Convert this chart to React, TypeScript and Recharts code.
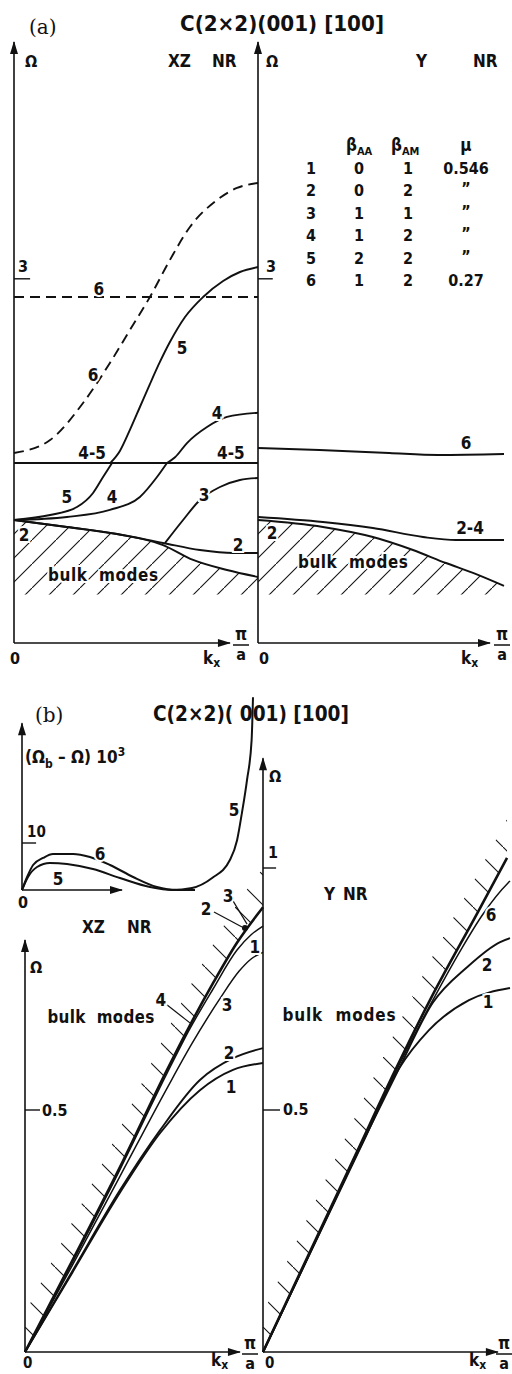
import React from "react";
import {
  ComposedChart,
  Line,
  Area,
  Scatter,
  XAxis,
  YAxis,
  ReferenceLine,
  ReferenceDot,
} from "recharts";

type Pair = [number, number];
type Tag = [number, number, string];

// ---- (a) XZ NR : k from 0 to pi/a, Omega in reduced units ----
const xzFlat6: Pair[] = [[0, 2.85], [1, 2.85]];
const xzRise6: Pair[] = [
  [0, 1.565], [0.148, 1.672], [0.283, 1.977], [0.393, 2.306], [0.475, 2.578],
  [0.557, 2.85], [0.639, 3.155], [0.721, 3.427], [0.832, 3.649], [0.914, 3.748], [1, 3.789],
];
const xzFlat45: Pair[] = [[0, 1.483], [1, 1.483]];
const xzLow5: Pair[] = [
  [0, 1.013], [0.148, 1.054], [0.258, 1.12], [0.324, 1.236], [0.365, 1.367], [0.402, 1.483],
];
const xzHigh5: Pair[] = [
  [0.395, 1.483], [0.434, 1.582], [0.475, 1.755], [0.516, 1.944], [0.557, 2.133],
  [0.598, 2.315], [0.639, 2.479], [0.701, 2.685], [0.775, 2.85], [0.857, 2.982],
  [0.926, 3.056], [1, 3.097],
];
const xzLow4: Pair[] = [
  [0, 1.013], [0.217, 1.038], [0.393, 1.096], [0.516, 1.203], [0.586, 1.367], [0.627, 1.483],
];
const xzHigh4: Pair[] = [
  [0.627, 1.483], [0.66, 1.53], [0.709, 1.647], [0.791, 1.779], [0.873, 1.862], [1, 1.897],
];
const xzMode3: Pair[] = [
  [0.619, 0.824], [0.693, 1.013], [0.762, 1.178], [0.844, 1.285], [0.926, 1.343], [1, 1.359],
];
const xzMode2: Pair[] = [
  [0, 1.013], [0.217, 0.956], [0.422, 0.898], [0.611, 0.824], [0.762, 0.766], [0.898, 0.741], [1, 0.741],
];
const xzBulkA: Pair[] = [
  [0, 1.013], [0.217, 0.956], [0.422, 0.898], [0.611, 0.807], [0.734, 0.684], [0.873, 0.601], [1, 0.544],
];

// ---- (a) Y NR ----
const yMode6: Pair[] = [[0, 1.606], [0.25, 1.59], [0.533, 1.565], [0.732, 1.549], [1, 1.557]];
const yMode24: Pair[] = [
  [0, 1.038], [0.264, 0.997], [0.467, 0.947], [0.671, 0.873], [0.805, 0.848], [1, 0.848],
];
const yBulkA: Pair[] = [
  [0, 1.013], [0.264, 0.956], [0.467, 0.873], [0.63, 0.766], [0.764, 0.659], [0.874, 0.577], [1, 0.47],
];

// ---- (b) inset : (Omega_b - Omega) * 10^3 ----
const gap6: Pair[] = [
  [0, 0], [0.022, 2.77], [0.048, 5.32], [0.091, 6.81], [0.134, 7.66], [0.221, 7.66],
  [0.294, 7.02], [0.381, 5.32], [0.481, 2.77], [0.584, 0.64], [0.671, 0], [0.749, 0],
];
const gap5: Pair[] = [
  [0, 0], [0.026, 2.77], [0.065, 4.89], [0.121, 5.74], [0.195, 5.53], [0.307, 4.47],
  [0.424, 2.55], [0.554, 0.64], [0.649, 0], [0.736, 0.43], [0.823, 2.55], [0.9, 6.38],
  [0.931, 10.6], [0.952, 16.4], [0.974, 23.4], [0.994, 31.9], [1, 41],
];

// ---- (b) XZ NR, low frequencies ----
const xzBulkB: Pair[] = [
  [0, 0], [0.2, 0.19], [0.4, 0.383], [0.597, 0.583], [0.693, 0.675], [0.79, 0.762], [0.89, 0.845], [1, 0.919],
];
const xzB4: Pair[] = [
  [0, 0], [0.2, 0.186], [0.4, 0.378], [0.597, 0.576], [0.693, 0.668], [0.79, 0.75], [0.89, 0.83], [0.95, 0.862], [1, 0.88],
];
const xzB3: Pair[] = [
  [0, 0], [0.2, 0.18], [0.4, 0.364], [0.6, 0.548], [0.7, 0.636], [0.819, 0.73], [0.9, 0.787], [0.95, 0.812], [1, 0.826],
];
const xzB2: Pair[] = [
  [0, 0], [0.2, 0.168], [0.4, 0.335], [0.567, 0.458], [0.735, 0.562], [0.874, 0.607], [1, 0.628],
];
const xzB1: Pair[] = [
  [0, 0], [0.2, 0.165], [0.4, 0.33], [0.567, 0.452], [0.735, 0.541], [0.874, 0.583], [1, 0.597],
];

// ---- (b) Y NR ----
const yBulkB: Pair[] = [
  [0, 0], [0.2, 0.218], [0.377, 0.41], [0.538, 0.585], [0.676, 0.727], [0.87, 0.909], [0.988, 1.021],
];
const yB6: Pair[] = [
  [0, 0], [0.2, 0.216], [0.377, 0.407], [0.538, 0.58], [0.676, 0.716], [0.8, 0.83], [0.891, 0.905], [0.992, 0.969], [1, 0.973],
];
const yB2: Pair[] = [
  [0, 0], [0.2, 0.215], [0.4, 0.43], [0.55, 0.585], [0.688, 0.722], [0.826, 0.795], [0.96, 0.847], [1, 0.855],
];
const yB1: Pair[] = [
  [0, 0], [0.2, 0.214], [0.4, 0.428], [0.55, 0.585], [0.672, 0.665], [0.834, 0.727], [1, 0.752],
];

// curve labels, [k, value, text]
const tagsAXz: Tag[] = [
  [0.348, 2.916, "6"], [0.324, 2.208, "6"], [0.689, 2.43, "5"], [0.832, 1.895, "4"],
  [0.32, 1.565, "4-5"], [0.889, 1.565, "4-5"], [0.217, 1.203, "5"], [0.402, 1.203, "4"],
  [0.779, 1.219, "3"], [0.918, 0.807, "2"], [0.041, 0.89, "2"],
];
const tagsAY: Tag[] = [[0.846, 1.647, "6"], [0.862, 0.947, "2-4"], [0.057, 0.906, "2"]];
const tagsInset: Tag[] = [[0.338, 7.66, "6"], [0.156, 2.34, "5"], [0.918, 17, "5"]];
const tagsBXz: Tag[] = [
  [0.571, 0.727, "4"], [0.849, 0.717, "3"], [0.857, 0.618, "2"], [0.866, 0.548, "1"],
  [0.761, 0.915, "2"], [0.853, 0.942, "3"], [0.966, 0.837, "1"],
];
const tagsBY: Tag[] = [[0.923, 0.903, "6"], [0.907, 0.8, "2"], [0.911, 0.723, "1"]];
const bulkTagAXz: Tag[] = [[0.365, 0.56, "bulk  modes"]];
const bulkTagAY: Tag[] = [[0.386, 0.667, "bulk  modes"]];
const bulkTagBXz: Tag[] = [[0.319, 0.692, "bulk  modes"]];
const bulkTagBY: Tag[] = [[0.308, 0.696, "bulk  modes"]];

// parameter table of panel (a)
const tableHead = ["\u03B2AA", "\u03B2AM", "\u03BC"];
const tableRows = [
  ["1", "0", "1", "0.546"],
  ["2", "0", "2", "\u201D"],
  ["3", "1", "1", "\u201D"],
  ["4", "1", "2", "\u201D"],
  ["5", "2", "2", "\u201D"],
  ["6", "1", "2", "0.27"],
];

const HATCH_FLOOR = 0.4;
const HATCH_DEPTH = 0.08;

const INK = "#111";
const FONT = '"DejaVu Sans Condensed", "DejaVu Sans", sans-serif';
const WEIGHT = 600;
const M = 30;

const toPoints = (rows: Pair[]) => rows.map(([k, w]) => ({ k, w }));

function curve(key: string, rows: Pair[], width = 1.9, dash?: string) {
  return (
    <Line
      key={key}
      data={toPoints(rows)}
      dataKey="w"
      type="monotone"
      stroke={INK}
      strokeWidth={width}
      strokeDasharray={dash}
      dot={false}
      activeDot={false}
      legendType="none"
      isAnimationActive={false}
    />
  );
}

function hatchBand(key: string, rows: Pair[], fill: string, below: boolean) {
  const data = rows.map(([k, w]) => ({
    k,
    band: below ? [HATCH_FLOOR, w] : [w, w + HATCH_DEPTH],
  }));
  return (
    <Area
      key={key}
      data={data}
      dataKey="band"
      type="monotone"
      stroke="none"
      fill={fill}
      fillOpacity={1}
      activeDot={false}
      legendType="none"
      isAnimationActive={false}
    />
  );
}

const arrowUp = (p: any) => (
  <path d={`M${p.cx},${p.cy - 1} L${p.cx - 4},${p.cy + 12} L${p.cx + 4},${p.cy + 12} Z`} fill={INK} />
);
const arrowRight = (p: any) => (
  <path d={`M${p.cx + 1},${p.cy} L${p.cx - 12},${p.cy - 4} L${p.cx - 12},${p.cy + 4} Z`} fill={INK} />
);

function axes(xEnd: number, yEnd: number) {
  return [
    <ReferenceLine key="xa" segment={[{ x: 0, y: 0 }, { x: xEnd, y: 0 }]} stroke={INK} strokeWidth={1.6} />,
    <ReferenceLine key="ya" segment={[{ x: 0, y: 0 }, { x: 0, y: yEnd }]} stroke={INK} strokeWidth={1.6} />,
    <ReferenceDot key="xh" x={xEnd} y={0} r={0} shape={arrowRight} />,
    <ReferenceDot key="yh" x={0} y={yEnd} r={0} shape={arrowUp} />,
  ];
}

function tick(key: string, y: number, len: number) {
  return (
    <ReferenceLine key={key} segment={[{ x: 0, y }, { x: len, y }]} stroke={INK} strokeWidth={1.4} />
  );
}

function leader(key: string, from: Pair, to: Pair) {
  return (
    <ReferenceLine
      key={key}
      segment={[{ x: from[0], y: from[1] }, { x: to[0], y: to[1] }]}
      stroke={INK}
      strokeWidth={1.2}
    />
  );
}

function tags(key: string, rows: Tag[], size = 17, length?: number) {
  const data = rows.map(([k, w, text]) => ({ k, w, text }));
  return (
    <Scatter
      key={key}
      data={data}
      dataKey="w"
      legendType="none"
      isAnimationActive={false}
      shape={(p: any) => (
        <text
          x={p.cx}
          y={p.cy}
          textAnchor="middle"
          dominantBaseline="central"
          fontFamily={FONT}
          fontWeight={WEIGHT}
          fontSize={size}
          fill={INK}
          stroke="#fff"
          strokeWidth={4}
          paintOrder="stroke"
          textLength={length}
          lengthAdjust={length ? "spacing" : undefined}
          style={{ whiteSpace: "pre" }}
        >
          {p.payload.text}
        </text>
      )}
    />
  );
}

function Panel(props: {
  x: number;
  y: number;
  w: number;
  h: number;
  yMax: number;
  children: React.ReactNode;
}) {
  const { x, y, w, h, yMax, children } = props;
  return (
    <div style={{ position: "absolute", left: x - M, top: y - M }}>
      <ComposedChart
        width={w + 2 * M}
        height={h + 2 * M}
        margin={{ top: M, right: M, bottom: M, left: M }}
      >
        <defs>
          <pattern id="hatch-slash" patternUnits="userSpaceOnUse" width="24" height="24">
            <path d="M-3,27 L27,-3" stroke={INK} strokeWidth="1.1" />
          </pattern>
          <pattern id="hatch-back" patternUnits="userSpaceOnUse" width="30" height="30">
            <path d="M-3,-3 L33,33" stroke={INK} strokeWidth="1.1" />
          </pattern>
        </defs>
        <XAxis type="number" dataKey="k" domain={[0, 1]} hide />
        <YAxis type="number" dataKey="w" domain={[0, yMax]} hide />
        {children}
      </ComposedChart>
    </div>
  );
}

function Txt(props: any) {
  return <text fontFamily={FONT} fontWeight={WEIGHT} fill={INK} fontSize={17} {...props} />;
}

function PiOverA({ x, y }: { x: number; y: number }) {
  return (
    <g>
      <Txt x={x} y={y - 4} textAnchor="middle" fontSize={17}>
        {"\u03C0"}
      </Txt>
      <line x1={x - 8} x2={x + 8} y1={y + 1} y2={y + 1} stroke={INK} strokeWidth={1.5} />
      <Txt x={x} y={y + 16} textAnchor="middle" fontSize={16}>
        a
      </Txt>
    </g>
  );
}

function Kx({ x, y }: { x: number; y: number }) {
  return (
    <Txt x={x} y={y} fontSize={17}>
      k
      <tspan fontSize={12} dy={3}>
        x
      </tspan>
    </Txt>
  );
}

function Overlay() {
  const colX = [311, 359, 408, 466];
  const rowY = [174, 196, 219, 241, 264, 286];
  return (
    <svg
      width={512}
      height={1374}
      style={{ position: "absolute", left: 0, top: 0, pointerEvents: "none" }}
    >
      {/* panel (a) */}
      <text x={29} y={34} fontFamily='"DejaVu Serif", serif' fontSize={20} fill={INK}>
        (a)
      </text>
      <Txt x={180} y={31} fontSize={22} textLength={204} lengthAdjust="spacingAndGlyphs">
        C(2{"\u00D7"}2)(001) [100]
      </Txt>
      <Txt x={25} y={67} fontSize={16}>{"\u03A9"}</Txt>
      <Txt x={168} y={67}>XZ</Txt>
      <Txt x={212} y={67}>NR</Txt>
      <Txt x={266} y={67} fontSize={16}>{"\u03A9"}</Txt>
      <Txt x={416} y={67}>Y</Txt>
      <Txt x={473} y={67}>NR</Txt>
      <Txt x={18} y={272} fontSize={16}>3</Txt>
      <Txt x={266} y={272} fontSize={16}>3</Txt>

      <Txt x={346} y={151} fontSize={17}>
        {"\u03B2"}
        <tspan fontSize={11} dy={4}>AA</tspan>
      </Txt>
      <Txt x={391} y={151} fontSize={17}>
        {"\u03B2"}
        <tspan fontSize={11} dy={4}>AM</tspan>
      </Txt>
      <Txt x={466} y={151} fontSize={17} textAnchor="middle">
        {tableHead[2]}
      </Txt>
      {tableRows.map((row, i) =>
        row.map((cell, j) => (
          <Txt
            key={`${i}-${j}`}
            x={colX[j]}
            y={cell === "\u201D" ? rowY[i] - 2 : rowY[i]}
            fontSize={16}
            textAnchor="middle"
          >
            {cell}
          </Txt>
        ))
      )}

      <Txt x={10} y={664} fontSize={16}>0</Txt>
      <Kx x={203} y={664} />
      <PiOverA x={241} y={644} />
      <Txt x={259} y={664} fontSize={16}>0</Txt>
      <Kx x={461} y={664} />
      <PiOverA x={502} y={644} />

      {/* panel (b) */}
      <text x={35} y={722} fontFamily='"DejaVu Serif", serif' fontSize={20} fill={INK}>
        (b)
      </text>
      <Txt x={153} y={721} fontSize={22} textLength={196} lengthAdjust="spacingAndGlyphs">
        C(2{"\u00D7"}2)( 001) [100]
      </Txt>
      <Txt x={25} y={763} fontSize={17}>
        ({"\u03A9"}
        <tspan fontSize={12} dy={5}>b</tspan>
        <tspan dy={-5}> {"\u2013"} {"\u03A9"}) 10</tspan>
        <tspan fontSize={12} dy={-7}>3</tspan>
      </Txt>
      <Txt x={27} y={837} fontSize={15}>10</Txt>
      <Txt x={18} y={908} fontSize={16}>0</Txt>
      <Txt x={82} y={933}>XZ</Txt>
      <Txt x={127} y={933}>NR</Txt>
      <Txt x={30} y={973} fontSize={16}>{"\u03A9"}</Txt>
      <Txt x={324} y={900}>Y</Txt>
      <Txt x={343} y={900}>NR</Txt>
      <Txt x={269} y={782} fontSize={16}>{"\u03A9"}</Txt>
      <Txt x={268} y={858} fontSize={16}>1</Txt>
      <Txt x={42} y={1116} fontSize={16}>0.5</Txt>
      <Txt x={283} y={1115} fontSize={16}>0.5</Txt>

      <Txt x={23} y={1368} fontSize={15}>0</Txt>
      <Kx x={211} y={1366} />
      <PiOverA x={250} y={1353} />
      <Txt x={265} y={1368} fontSize={15}>0</Txt>
      <Kx x={469} y={1366} />
      <PiOverA x={504} y={1353} />
    </svg>
  );
}

const A_TOP = 42;
const A_H = 601;
const A_MAX = A_H / 121.4;
const B_TOP = 757;
const B_H = 595;
const B_MAX = B_H / 484;
const I_TOP = 693;
const I_H = 197;
const I_MAX = I_H / 4.7;

export default function App() {
  return (
    <div
      style={{
        position: "absolute",
        left: 0,
        top: 0,
        width: 512,
        height: 1374,
        overflow: "hidden",
        background: "#fff",
      }}
    >
      {/* (a) XZ NR */}
      <Panel x={14} y={A_TOP} w={244} h={A_H} yMax={A_MAX}>
        {hatchBand("hb", xzBulkA, "url(#hatch-slash)", true)}
        {axes(0.885, A_MAX)}
        {tick("t3", 3, 0.066)}
        {curve("f6", xzFlat6, 1.9, "10 6")}
        {curve("r6", xzRise6, 1.9, "10 6")}
        {curve("f45", xzFlat45)}
        {curve("l5", xzLow5)}
        {curve("h5", xzHigh5)}
        {curve("l4", xzLow4)}
        {curve("h4", xzHigh4)}
        {curve("m3", xzMode3)}
        {curve("m2", xzMode2)}
        {curve("bk", xzBulkA)}
        {tags("lb", tagsAXz)}
        {tags("bm", bulkTagAXz, 17, 110)}
      </Panel>

      {/* (a) Y NR */}
      <Panel x={258} y={A_TOP} w={246} h={A_H} yMax={A_MAX}>
        {hatchBand("hb", yBulkA, "url(#hatch-slash)", true)}
        {axes(0.943, A_MAX)}
        {tick("t3", 3, 0.06)}
        {curve("m6", yMode6)}
        {curve("m24", yMode24)}
        {curve("bk", yBulkA)}
        {tags("lb", tagsAY)}
        {tags("bm", bulkTagAY, 17, 110)}
      </Panel>

      {/* (b) inset */}
      <Panel x={22} y={I_TOP} w={231} h={I_H} yMax={I_MAX}>
        {axes(0.433, 35.5)}
        {tick("t10", 10, 0.061)}
        {curve("g6", gap6, 2)}
        {curve("g5", gap5, 2)}
        {tags("lb", tagsInset)}
      </Panel>

      {/* (b) XZ NR */}
      <Panel x={25} y={B_TOP} w={238} h={B_H} yMax={B_MAX}>
        {hatchBand("hb", xzBulkB, "url(#hatch-back)", false)}
        {axes(0.903, 0.851)}
        {tick("t05", 0.5, 0.063)}
        {curve("b1", xzB1)}
        {curve("b2", xzB2)}
        {curve("b3", xzB3, 1.5)}
        {curve("b4", xzB4, 1.5)}
        {curve("bk", xzBulkB, 2.6)}
        {leader("l4", [0.592, 0.719], [0.693, 0.68])}
        {leader("l2", [0.794, 0.909], [0.912, 0.878])}
        {leader("l3", [0.874, 0.932], [0.933, 0.884])}
        <ReferenceDot key="dot" x={0.924} y={0.876} r={3} fill={INK} stroke="none" />
        {tags("lb", tagsBXz)}
        {tags("bm", bulkTagBXz, 17, 107)}
      </Panel>

      {/* (b) Y NR */}
      <Panel x={263} y={B_TOP} w={247} h={B_H} yMax={B_MAX}>
        {hatchBand("hb", yBulkB, "url(#hatch-back)", false)}
        {axes(0.951, 1.227)}
        {tick("t1", 1, 0.053)}
        {tick("t05", 0.5, 0.069)}
        {curve("b1", yB1)}
        {curve("b2", yB2)}
        {curve("b6", yB6, 1.5)}
        {curve("bk", yBulkB, 2.6)}
        {tags("lb", tagsBY)}
        {tags("bm", bulkTagBY, 17, 113)}
      </Panel>

      <Overlay />
    </div>
  );
}
